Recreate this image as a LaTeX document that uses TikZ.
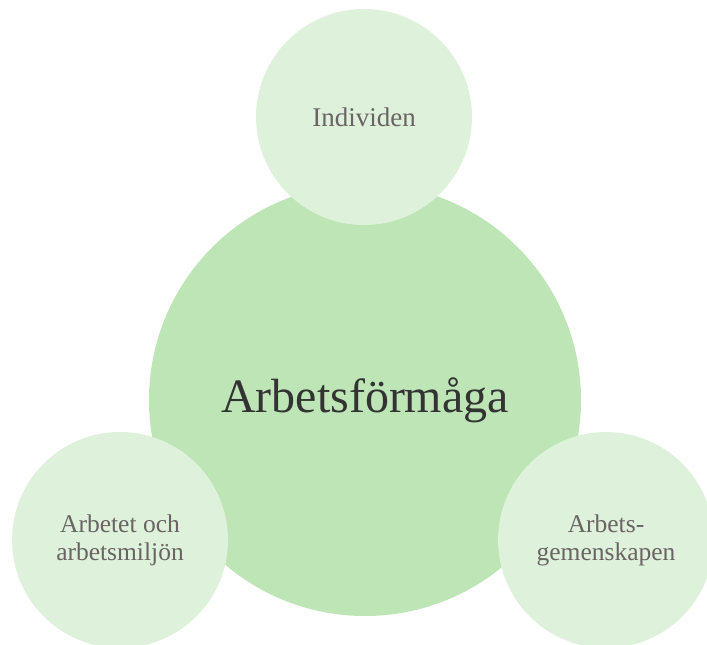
\documentclass[tikz,border=0pt]{standalone}
\usepackage{fontspec}
\setmainfont{Liberation Serif}
\usetikzlibrary{positioning}
\definecolor{afbig}{HTML}{BDE5B5}
\definecolor{afsmall}{HTML}{DEF1DA}
\definecolor{aftext}{HTML}{6A6465}
\definecolor{afdark}{HTML}{333333}
\tikzset{
  core/.style={circle,fill=afbig,minimum size=432pt,inner sep=0pt,
               text=afdark,font=\fontsize{48}{53}\selectfont},
  part/.style={circle,fill=afsmall,minimum size=216pt,inner sep=0pt,align=center,
               text=aftext,font=\fontsize{25.5}{28}\selectfont},
}

\begin{document}
\begin{tikzpicture}[x=1pt,y=-1pt]
    \useasboundingbox (0,0) rectangle (707,645);
    \clip (0,0) rectangle (707,645);
    \node[core] (af) at (365,400) {Arbetsförmåga};
    \node[part,font=\fontsize{27}{30}\selectfont] (ind) at (364,117) {Individen};
    \node[part] (miljo) at (120,540) {Arbetet och\\arbetsmiljön};
    \node[part] (gemen) at (606,540) {Arbets-\\gemenskapen};
  \end{tikzpicture}
\end{document}
